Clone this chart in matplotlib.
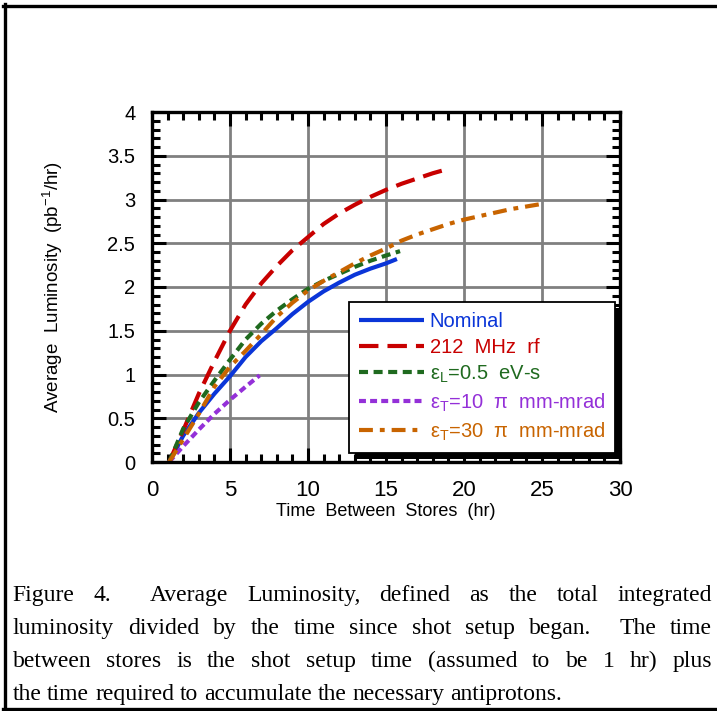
import matplotlib
matplotlib.use('Agg')
import matplotlib.pyplot as plt
from matplotlib.ticker import MultipleLocator
from matplotlib.lines import Line2D
from matplotlib.patches import Rectangle

plt.rcParams['font.family'] = ['Liberation Sans', 'DejaVu Sans']
plt.rcParams['mathtext.fontset'] = 'custom'
plt.rcParams['mathtext.rm'] = 'Liberation Sans'
plt.rcParams['mathtext.it'] = 'Liberation Sans:italic'
plt.rcParams['mathtext.sf'] = 'Liberation Sans'
plt.rcParams['lines.scale_dashes'] = False

# ---------------- data ----------------
nominal_x = [1.1, 2, 3, 4, 5, 6, 7, 8, 9, 10, 11, 12, 13, 14, 15, 15.7]
nominal_y = [0.0, 0.30, 0.56, 0.78, 0.98, 1.20, 1.38, 1.53, 1.69, 1.83, 1.95, 2.05, 2.14, 2.21, 2.27, 2.32]

rf212_x = [1.1, 2, 3, 4, 5, 6, 7, 8, 9, 10, 11, 12, 13, 14, 15, 16, 17, 18, 19]
rf212_y = [0.0, 0.36, 0.78, 1.15, 1.50, 1.80, 2.04, 2.24, 2.42, 2.57, 2.72, 2.84, 2.94, 3.03, 3.11, 3.18, 3.24, 3.30, 3.35]

epsL_x = [1.1, 2, 3, 4, 5, 6, 7, 8, 9, 10, 11, 12, 13, 14, 15, 15.9]
epsL_y = [0.0, 0.38, 0.68, 0.93, 1.17, 1.40, 1.58, 1.73, 1.86, 1.98, 2.07, 2.15, 2.23, 2.30, 2.36, 2.41]

epsT10_x = [1.1, 2, 3, 4, 5, 6, 6.9]
epsT10_y = [0.0, 0.18, 0.37, 0.55, 0.71, 0.86, 0.99]

epsT30_x = [1.1, 2, 3, 4, 5, 6, 7, 8, 9, 10, 11, 12, 13, 14, 15, 16, 17, 18, 19, 20, 21, 22, 23, 24, 25]
epsT30_y = [0.0, 0.26, 0.55, 0.86, 1.09, 1.27, 1.46, 1.66, 1.82, 1.96, 2.07, 2.17, 2.27, 2.36, 2.44,
            2.53, 2.60, 2.66, 2.72, 2.77, 2.81, 2.85, 2.89, 2.92, 2.95]

series_labels = ['Nominal', '212  MHz  rf', 'ε$_{\\rm L}$=0.5  eV-s',
                 'ε$_{\\rm T}$=10  π  mm-mrad', 'ε$_{\\rm T}$=30  π  mm-mrad']
series_colors = ['#0a35d8', '#c80000', '#1f6a1f', '#9430d8', '#c86400']

xticks = [0, 5, 10, 15, 20, 25, 30]
xticklabels = ['0', '5', '10', '15', '20', '25', '30']
yticks = [0, 0.5, 1, 1.5, 2, 2.5, 3, 3.5, 4]
yticklabels = ['0', '0.5', '1', '1.5', '2', '2.5', '3', '3.5', '4']

caption_lines = [
    'Figure 4.  Average Luminosity, defined as the total integrated',
    'luminosity divided by the time since shot setup began.  The time',
    'between stores is the shot setup time (assumed to be 1 hr) plus',
    'the time required to accumulate the necessary antiprotons.',
]

# ---------------- figure ----------------
W, H = 717, 711
fig = plt.figure(figsize=(W / 100, H / 100), dpi=100)
ax = fig.add_axes([152 / W, 1 - 462 / H, (620 - 152) / W, (462 - 112) / H])

lw = 3.0
ax.plot(nominal_x, nominal_y, color=series_colors[0], lw=lw, label=series_labels[0],
        solid_capstyle='butt')
ax.plot(rf212_x, rf212_y, color=series_colors[1], lw=lw, label=series_labels[1],
        dashes=(14, 6.5))
ax.plot(epsL_x, epsL_y, color=series_colors[2], lw=lw, label=series_labels[2],
        dashes=(6.5, 4))
ax.plot(epsT10_x, epsT10_y, color=series_colors[3], lw=lw, label=series_labels[3],
        dashes=(5, 3))
ax.plot(epsT30_x, epsT30_y, color=series_colors[4], lw=lw, label=series_labels[4],
        dashes=(10, 5, 3.5, 5))

ax.set_xlim(0, 30)
ax.set_ylim(0, 4)
ax.set_xticks(xticks)
ax.set_xticklabels(xticklabels)
ax.set_yticks(yticks)
ax.set_yticklabels(yticklabels)
ax.xaxis.set_minor_locator(MultipleLocator(1))
ax.yaxis.set_minor_locator(MultipleLocator(0.1))

ax.grid(which='major', color='#808080', linewidth=2.0)
for s in ax.spines.values():
    s.set_linewidth(2.4)
    s.set_zorder(3)
ax.tick_params(which='both', direction='in', top=True, right=True, width=2.2, color='k')
ax.tick_params(which='major', length=10)
ax.tick_params(which='minor', length=5.5)
ax.tick_params(axis='x', which='major', labelsize=16, pad=13)
ax.tick_params(axis='y', which='major', labelsize=14.5, pad=12)

ax.set_xlabel('Time  Between  Stores  (hr)', fontsize=13)
ax.xaxis.label.set_va('center')
ax.xaxis.set_label_coords(0.5, -(511 - 462) / 350)
ax.set_ylabel('Average  Luminosity  (pb$^{-1}$/hr)', fontsize=13.5)
ax.yaxis.label.set_va('center')
ax.yaxis.set_label_coords((53 - 152) / 468, 0.5)

leg = ax.legend(loc='upper left', bbox_to_anchor=((349 - 152) / 468, (462 - 302) / 350),
                borderaxespad=0, fontsize=14.5, handlelength=3.2, handletextpad=0.3,
                labelspacing=0.33, borderpad=0.5, fancybox=False, framealpha=1,
                edgecolor='k')
leg.get_frame().set_linewidth(1.3)
for t, ln in zip(leg.get_texts(), leg.get_lines()):
    t.set_color(ln.get_color())

# page frame
fl = 2.4
fig.add_artist(Line2D([3 / W, 1], [1 - 5.5 / H, 1 - 5.5 / H], color='k', lw=fl,
                      transform=fig.transFigure))
fig.add_artist(Line2D([5 / W, 5 / W], [1 - 4 / H, 1 - 710 / H], color='k', lw=fl,
                      transform=fig.transFigure))
fig.add_artist(Line2D([3 / W, 1], [1 - 708.5 / H, 1 - 708.5 / H], color='k', lw=fl,
                      transform=fig.transFigure))

# legend shadow
fig.canvas.draw()
renderer = fig.canvas.get_renderer()
bb = leg.get_frame().get_window_extent(renderer)
inv = ax.transAxes.inverted()
(x0, y0) = inv.transform((bb.x0 + 6, bb.y0 - 6))
(x1, y1) = inv.transform((bb.x1 + 6, bb.y1 - 6))
ax.add_patch(Rectangle((x0, y0), x1 - x0, y1 - y0, transform=ax.transAxes,
                       facecolor='k', edgecolor='none', zorder=4.5, clip_on=False))

# justified caption
cfs = 17
cfam = 'Liberation Serif'


def text_width(s):
    t = fig.text(0, 0, s, fontsize=cfs, family=cfam)
    w = t.get_window_extent(renderer).width
    t.remove()
    return w


space_w = text_width('a a') - text_width('aa')
left, right = 12.5, 712
baselines = [601, 634, 667, 700]
for i, line in enumerate(caption_lines):
    toks = line.split(' ')
    gaps = len(toks) - 1
    widths = [text_width(tk) if tk else 0 for tk in toks]
    natural = sum(widths) + gaps * space_w
    extra = (right - left - natural) / gaps if (i < len(caption_lines) - 1 and gaps) else 0
    x = left
    for tk, w in zip(toks, widths):
        if tk:
            fig.text(x / W, 1 - baselines[i] / H, tk, fontsize=cfs, family=cfam,
                     va='baseline', ha='left')
        x += w + space_w + extra

fig.savefig('out.png', dpi=100)
